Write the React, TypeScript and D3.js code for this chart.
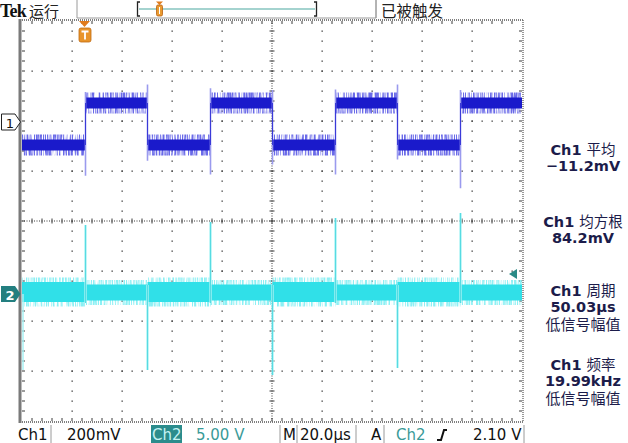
import React from 'react';
import * as d3 from 'd3';

const W = 628;
const H = 443;

// Horizontal: 20 µs/div, 10 divisions
const timeDomainUs = [0, 200];
// Ch1: 200 mV/div; edges alternate rising / falling
const ch1EdgeTimesUs = [25.4, 50.2, 75.4, 100.2, 125.4, 150.2, 175.4];
const ch1LevelsMv = [-92, 76, -92, 76, -92, 76, -92, 76];
const ch1SpikeTopMv = [120, 150, 135, 128, 130, 150, 128];
const ch1SpikeBottomMv = [-215, -155, -210, -170, -210, -150, -265];
const ch1CoreMv = 22;
const ch1HaloMv = 42;

// Ch2: 5 V/div
const ch2LevelsV = [0.2, 0.15, 0.2, 0.15, 0.2, 0.15, 0.2, 0.15];
const ch2CoreV = [1.0, 0.8, 1.0, 0.8, 1.0, 0.8, 1.0, 0.8];
const ch2SpikeTopV = [6.9, 0.9, 7.2, 0.9, 7.6, 0.9, 8.1];
const ch2SpikeBottomV = [-0.9, -7.6, -0.9, -8.1, -0.9, -7.4, -0.9];
const ch2StartSpikeV = -7.6;

const measurements = [
  { title: 'Ch1 平均', value: '−11.2mV', note: '' },
  { title: 'Ch1 均方根', value: '84.2mV', note: '' },
  { title: 'Ch1 周期', value: '50.03µs', note: '低信号幅值' },
  { title: 'Ch1 频率', value: '19.99kHz', note: '低信号幅值' },
];
const measTitleY = [155, 227, 296, 370];

const x0 = 22;
const y0 = 21;
const DIV = 50;

const xScale = d3.scaleLinear().domain(timeDomainUs).range([x0, x0 + 10 * DIV]);
const ch1Y = d3.scaleLinear().domain([0, 200]).range([122, 122 - DIV]);
const ch2Y = d3.scaleLinear().domain([0, 5]).range([294, 294 - DIV]);

const cjk = '"Noto Sans CJK SC", "DejaVu Sans", sans-serif';
const sans = '"DejaVu Sans", Verdana, sans-serif';

function Graticule() {
  const dots: JSX.Element[] = [];
  const col = '#3a3a3a';
  for (let i = 1; i < 10; i++) {
    if (i === 5) continue;
    for (let k = 1; k < 40; k++) {
      dots.push(<rect key={`v${i}-${k}`} x={x0 + i * DIV - 0.5} y={y0 + k * 10 - 0.5} width={1.3} height={1.3} fill={col} />);
    }
  }
  for (let j = 1; j < 8; j++) {
    if (j === 4) continue;
    for (let k = 1; k < 50; k++) {
      dots.push(<rect key={`h${j}-${k}`} x={x0 + k * 10 - 0.5} y={y0 + j * DIV - 0.5} width={1.3} height={1.3} fill={col} />);
    }
  }
  const cx = x0 + 5 * DIV;
  const cy = y0 + 4 * DIV;
  for (let k = 0; k <= 200; k++) {
    dots.push(<rect key={`ch${k}`} x={x0 + k * 2.5 - 0.5} y={cy - 0.5} width={1} height={1} fill={col} />);
  }
  for (let k = 0; k <= 160; k++) {
    dots.push(<rect key={`cv${k}`} x={cx - 0.5} y={y0 + k * 2.5 - 0.5} width={1} height={1} fill={col} />);
  }
  for (let k = 1; k < 50; k++) {
    dots.push(<line key={`cht${k}`} x1={x0 + k * 10} x2={x0 + k * 10} y1={cy - 2.5} y2={cy + 2.5} stroke={col} strokeWidth={1} />);
  }
  for (let k = 1; k < 40; k++) {
    dots.push(<line key={`cvt${k}`} y1={y0 + k * 10} y2={y0 + k * 10} x1={cx - 2.5} x2={cx + 2.5} stroke={col} strokeWidth={1} />);
  }
  for (let k = 1; k < 50; k++) {
    dots.push(<line key={`bt${k}`} x1={x0 + k * 10} x2={x0 + k * 10} y1={y0} y2={y0 + 3} stroke={col} strokeWidth={1} />);
    dots.push(<line key={`bb${k}`} x1={x0 + k * 10} x2={x0 + k * 10} y1={y0 + 400 - 3} y2={y0 + 400} stroke={col} strokeWidth={1} />);
  }
  for (let k = 1; k < 40; k++) {
    dots.push(<line key={`bl${k}`} y1={y0 + k * 10} y2={y0 + k * 10} x1={x0} x2={x0 + 3} stroke={col} strokeWidth={1} />);
    dots.push(<line key={`br${k}`} y1={y0 + k * 10} y2={y0 + k * 10} x1={x0 + 500 - 3} x2={x0 + 500} stroke={col} strokeWidth={1} />);
  }
  return (
    <g>
      <line x1={x0 - 2} x2={x0 + 501} y1={y0 - 1} y2={y0 - 1} stroke="#555" strokeWidth={1.5} strokeDasharray="1,1" />
      <line x1={x0 - 2} x2={x0 + 501} y1={y0 + 401} y2={y0 + 401} stroke="#555" strokeWidth={1.5} strokeDasharray="1,1" />
      <line x1={x0 + 501} x2={x0 + 501} y1={y0 - 1} y2={y0 + 401} stroke="#777" strokeWidth={1.5} strokeDasharray="1,1" />
      <line x1={x0 - 2} x2={x0 - 2} y1={y0 - 2} y2={y0 + 402} stroke="#7a7a7a" strokeWidth={3} />
      {dots}
    </g>
  );
}

function Traces() {
  const bounds = [timeDomainUs[0], ...ch1EdgeTimesUs, timeDomainUs[1]];
  const segs = d3.range(bounds.length - 1).map((i) => ({ t0: bounds[i], t1: bounds[i + 1], i }));
  return (
    <g>
      <g>
        {segs.map((s) => (
          <rect key={`c2h${s.i}`} x={xScale(s.t0)} width={xScale(s.t1) - xScale(s.t0)}
            y={ch2Y(ch2LevelsV[s.i] + ch2CoreV[s.i] + 0.45)} height={ch2Y(-ch2CoreV[s.i] - 0.45) - ch2Y(ch2CoreV[s.i] + 0.45)}
            fill="#8cf0f4" filter="url(#streak)" />
        ))}
        {segs.map((s) => (
          <rect key={`c2c${s.i}`} x={xScale(s.t0)} width={xScale(s.t1) - xScale(s.t0)}
            y={ch2Y(ch2LevelsV[s.i] + ch2CoreV[s.i])} height={ch2Y(-ch2CoreV[s.i]) - ch2Y(ch2CoreV[s.i])}
            fill="#30e0e8" />
        ))}
        <line x1={xScale(0) + 1} x2={xScale(0) + 1} y1={ch2Y(0)} y2={ch2Y(ch2StartSpikeV)} stroke="#a8f2f4" strokeWidth={1.5} />
        {ch1EdgeTimesUs.map((t, i) => (
          <g key={`c2s${i}`}>
            <line x1={xScale(t)} x2={xScale(t)} y1={ch2Y(ch2SpikeTopV[i])} y2={ch2Y(ch2SpikeBottomV[i])} stroke="#a6f2f4" strokeWidth={2.4} />
            <line x1={xScale(t)} x2={xScale(t)} y1={ch2Y(ch2SpikeTopV[i])} y2={ch2Y(ch2SpikeBottomV[i])} stroke="#4ed8e0" strokeWidth={0.9} />
          </g>
        ))}
      </g>
      <g>
        {segs.map((s) => (
          <rect key={`c1h${s.i}`} x={xScale(s.t0)} width={xScale(s.t1) - xScale(s.t0)}
            y={ch1Y(ch1LevelsMv[s.i] + ch1HaloMv)} height={ch1Y(-ch1HaloMv) - ch1Y(ch1HaloMv)}
            fill="#6a6ae8" filter="url(#streak)" />
        ))}
        {segs.map((s) => (
          <rect key={`c1c${s.i}`} x={xScale(s.t0)} width={xScale(s.t1) - xScale(s.t0)}
            y={ch1Y(ch1LevelsMv[s.i] + ch1CoreMv)} height={ch1Y(-ch1CoreMv) - ch1Y(ch1CoreMv)}
            fill="#1a1acb" />
        ))}
        {ch1EdgeTimesUs.map((t, i) => (
          <g key={`c1s${i}`}>
            <line x1={xScale(t)} x2={xScale(t)} y1={ch1Y(ch1SpikeTopMv[i])} y2={ch1Y(ch1SpikeBottomMv[i])} stroke="#9a9aee" strokeWidth={1.6} />
            <line x1={xScale(t)} x2={xScale(t)} y1={ch1Y(Math.max(ch1LevelsMv[i], ch1LevelsMv[i + 1]))} y2={ch1Y(Math.min(ch1LevelsMv[i], ch1LevelsMv[i + 1]))} stroke="#3a3ad8" strokeWidth={1} />
          </g>
        ))}
      </g>
    </g>
  );
}

function TopBar() {
  return (
    <g>
      <text x={0} y={17} fontFamily='"Liberation Serif", serif' fontWeight="bold" fontSize={18} letterSpacing={-0.8} fill="#111">Tek</text>
      <text x={29} y={16.5} fontFamily={cjk} fontSize={15} fill="#222">运行</text>
      <path d="M77,0 V18 H376 V0" fill="none" stroke="#9a9a9a" strokeWidth={1} />
      <path d="M140,2 H137.5 V16 H140" fill="none" stroke="#222" strokeWidth={1.3} />
      <path d="M314,2 H316.5 V16 H314" fill="none" stroke="#222" strokeWidth={1.3} />
      <line x1={139} x2={315} y1={9} y2={9} stroke="#4aa8a0" strokeWidth={1.2} />
      <path d="M156,1.5 H163 L159.5,5 Z" fill="#e07a1a" />
      <rect x={156.5} y={5} width={6} height={11} rx={1.5} fill="#e99a30" stroke="#b86010" strokeWidth={0.8} />
      <line x1={159.5} x2={159.5} y1={7} y2={14} stroke="#fff" strokeWidth={1} />
      <line x1={376} x2={376} y1={0} y2={18} stroke="#9a9a9a" />
      <text x={381} y={16.5} fontFamily={cjk} fontSize={15.5} fill="#222">已被触发</text>
    </g>
  );
}

function Markers() {
  return (
    <g>
      <path d="M79,21 H90 L84.5,27 Z" fill="#e07a1a" />
      <rect x={79} y={28} width={12} height={14} rx={2} fill="#e8942a" stroke="#c06a10" strokeWidth={0.8} />
      <path d="M81.5,31.5 H88.5 M85,31.5 V39.5" stroke="#fff" strokeWidth={1.8} fill="none" />
      <path d="M1.5,114 H15 L20.5,122 L15,130 H1.5 Z" fill="#fff" stroke="#222" strokeWidth={1} />
      <text x={10} y={127.5} textAnchor="middle" fontFamily={sans} fontSize={13} fill="#111">1</text>
      <path d="M1,286 H15 L20.5,294 L15,302 H1 Z" fill="#237f80" />
      <text x={10} y={299.5} textAnchor="middle" fontFamily={sans} fontWeight="bold" fontSize={13} fill="#fff">2</text>
      <path d="M517,269 V279 L509,274 Z" fill="#2a8a86" />
    </g>
  );
}

function BottomBar() {
  const g = '#9a9a9a';
  return (
    <g fontFamily={sans} fontSize={15}>
      <text x={18} y={440} fill="#111">Ch1</text>
      <line x1={51} x2={51} y1={425} y2={443} stroke={g} />
      <text x={67} y={440} fill="#111">200mV</text>
      <rect x={151} y={425} width={31} height={18} fill="#2b8c8c" />
      <text x={152} y={440} fill="#c4f2f2">Ch2</text>
      <text x={196} y={440} fill="#3a9a98">5.00 V</text>
      <line x1={280} x2={280} y1={425} y2={443} stroke={g} />
      <text x={283} y={440} fill="#111">M</text>
      <line x1={297} x2={297} y1={425} y2={443} stroke={g} />
      <text x={300} y={440} fill="#111">20.0µs</text>
      <line x1={356} x2={356} y1={425} y2={443} stroke={g} />
      <text x={371} y={440} fill="#111">A</text>
      <line x1={384} x2={384} y1={425} y2={443} stroke={g} />
      <text x={396} y={440} fill="#3a9a98">Ch2</text>
      <path d="M437,440 H441 L444,430 H447" fill="none" stroke="#111" strokeWidth={2} />
      <text x={473} y={440} fill="#111">2.10 V</text>
      <line x1={524} x2={524} y1={425} y2={443} stroke={g} />
    </g>
  );
}

function Measurements() {
  const cx = 583;
  return (
    <g textAnchor="middle" fill="#1c1c4a">
      {measurements.map((m, i) => (
        <g key={i}>
          <text x={cx} y={measTitleY[i]} fontSize={14.5}>
            <tspan fontFamily={sans} fontWeight="bold">{m.title.split(' ')[0]} </tspan>
            <tspan fontFamily={cjk}>{m.title.split(' ')[1]}</tspan>
          </text>
          <text x={cx} y={measTitleY[i] + 16} fontSize={14.5} fontFamily={sans} fontWeight="bold">{m.value}</text>
          {m.note && <text x={cx} y={measTitleY[i] + 34} fontSize={15} fontFamily={cjk}>{m.note}</text>}
        </g>
      ))}
    </g>
  );
}

export default function App() {
  return (
    <div style={{ width: W, height: H }}>
      <style>{'body{margin:0;background:#fff}'}</style>
      <svg width={W} height={H} viewBox={`0 0 ${W} ${H}`} style={{ display: 'block' }}>
        <defs>
          <filter id="streak" x="0" y="0" width="1" height="1">
            <feTurbulence type="fractalNoise" baseFrequency="0.9 0.035" numOctaves={2} seed={4} result="n" />
            <feColorMatrix in="n" type="matrix" values="0 0 0 0 0  0 0 0 0 0  0 0 0 0 0  0 0 0 3.6 -1.3" result="a" />
            <feComposite in="SourceGraphic" in2="a" operator="in" />
          </filter>
        </defs>
        <rect width={W} height={H} fill="#fff" />
        <Graticule />
        <Traces />
        <Markers />
        <TopBar />
        <BottomBar />
        <Measurements />
      </svg>
    </div>
  );
}
